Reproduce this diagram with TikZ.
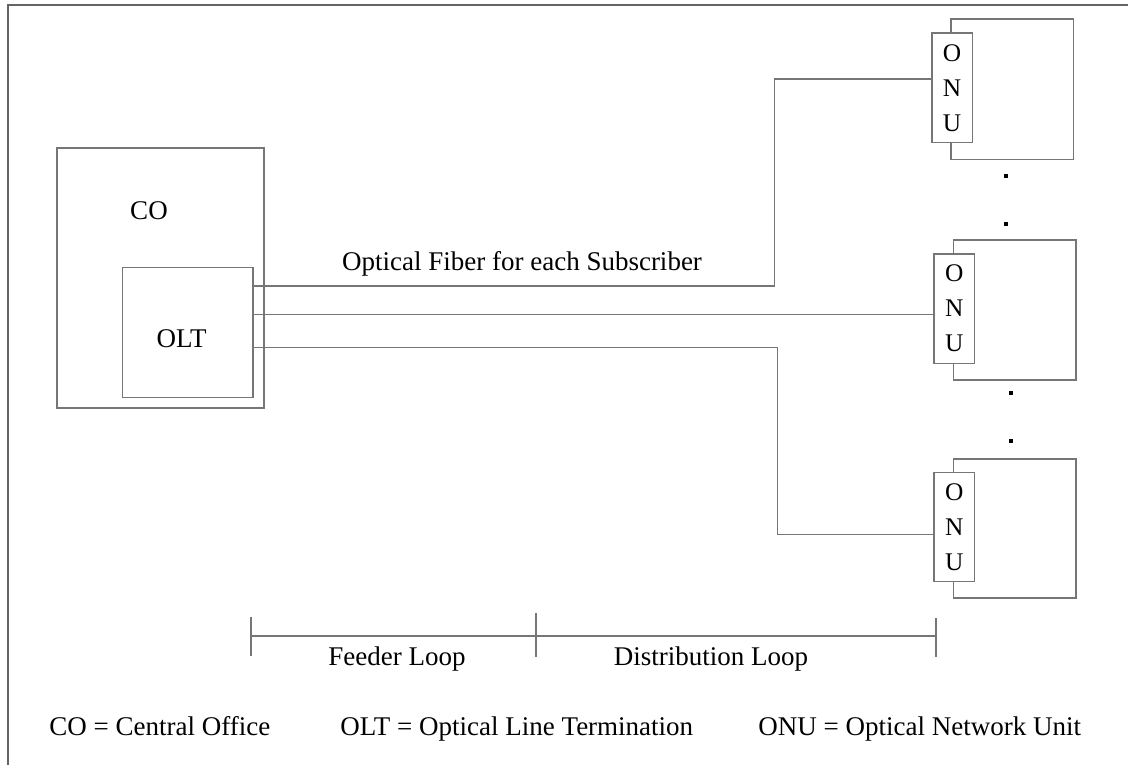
\documentclass[tikz,border=0pt]{standalone}
\usepackage{fontspec}
\setmainfont{Liberation Serif}
\definecolor{wirec}{RGB}{118,118,118}
\definecolor{framec}{RGB}{100,100,100}
\begin{document}
\begin{tikzpicture}[x=0.5pt,y=-0.5pt,
  box/.style={draw=wirec,line width=0.8pt,inner sep=0pt,rectangle},
  onubox/.style={box,fill=white,minimum width=20.3pt,minimum height=54.6pt,
    align=center,font=\fontsize{12.7}{17.5}\selectfont},
  fiber/.style={draw=wirec,line width=0.8pt},
  lbl/.style={inner sep=0pt,font=\fontsize{13.5}{16}\selectfont},
  dotmark/.style={fill=black,draw=none}]
\useasboundingbox (0,0) rectangle (1128,765);

% page frame (left and top edges)
\draw[framec,line width=1pt] (7.5,765) -- (7.5,5.5) -- (1128,5.5);

% central office with the optical line termination
\node[box,minimum width=103.5pt,minimum height=130pt] (co) at (160.5,278) {};
\node[lbl,anchor=base] (colbl) at (149,219) {CO};
\node[box,minimum width=65.2pt,minimum height=65pt] (olt) at (187.5,332.3) {};
\node[lbl,anchor=base] (oltlbl) at (181.7,347) {OLT};

% subscriber premises
\node[box,minimum width=61.15pt,minimum height=70pt] (sub1) at (1012.2,89.3) {};
\node[box,minimum width=61.35pt,minimum height=70pt] (sub2) at (1014.7,310) {};
\node[box,minimum width=61.2pt,minimum height=69.35pt] (sub3) at (1014.5,528.4) {};

% optical network units
\node[onubox] (onu1) at (952,87.8) {O\\N\\U};
\node[onubox] (onu2) at (954.3,308.7) {O\\N\\U};
\node[onubox] (onu3) at (954.3,527) {O\\N\\U};

% fibers
\coordinate (ta) at (774.3,285.7);
\coordinate (tb) at (774.3,79.3);
\draw[fiber] (olt.east |- ta) -- (ta) -- (tb) -- (onu1.west |- tb);
\coordinate (mid) at (700,314.5);
\draw[fiber] (olt.east |- mid) -- (onu2.west |- mid);
\coordinate (ba) at (777.3,347.3);
\coordinate (bb) at (777.3,534.3);
\draw[fiber] (olt.east |- ba) -- (ba) -- (bb) -- (onu3.west |- bb);

\node[lbl,anchor=base] (fiberlbl) at (522,270) {Optical Fiber for each Subscriber};

% continuation dots
\fill[dotmark] (1004,174) rectangle (1008,178);
\fill[dotmark] (1004,222) rectangle (1008,226);
\fill[dotmark] (1008.7,391.3) rectangle (1012.7,395.3);
\fill[dotmark] (1008.7,439) rectangle (1012.7,443);

% loop scale
\coordinate (sl) at (251,636);
\coordinate (sm) at (536,636);
\coordinate (sr) at (935.7,636);
\draw[fiber] (sl) -- (sr);
\draw[fiber] (251,617) -- (251,656);
\draw[fiber] (536,613) -- (536,657);
\draw[fiber] (935.7,618) -- (935.7,657);
\node[lbl,anchor=base] (feeder) at (397,665) {Feeder Loop};
\node[lbl,anchor=base] (distr) at (711,665) {Distribution Loop};

% legend
\node[lbl,anchor=base west] (lgco) at (49,735.7) {CO = Central Office};
\node[lbl,anchor=base west] (lgolt) at (340,735.7) {OLT = Optical Line Termination};
\node[lbl,anchor=base west] (lgonu) at (758,735.7) {ONU = Optical Network Unit};
\end{tikzpicture}
\end{document}
